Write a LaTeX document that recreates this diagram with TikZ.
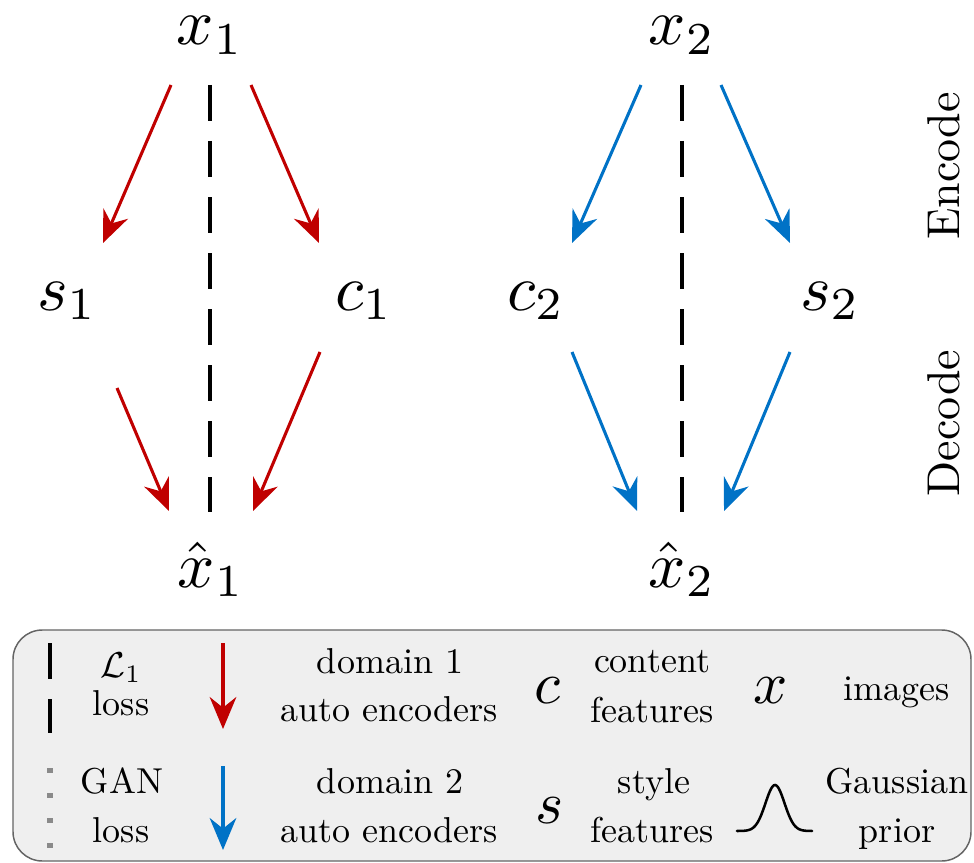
\documentclass[tikz,border=0pt]{standalone}
\usetikzlibrary{arrows.meta}
\definecolor{myred}{RGB}{192,0,0}
\definecolor{myblue}{RGB}{0,114,198}
\definecolor{legfill}{RGB}{239,239,239}
\definecolor{legdraw}{RGB}{100,100,100}
\definecolor{gangray}{RGB}{138,138,138}
\newcommand\mainlab[1]{\scalebox{4.9}{$#1$}}
\newcommand\legtext[1]{\scalebox{2.7}{#1}}
\newcommand\legmathtext[1]{\scalebox{4.5}{$#1$}}
\newcommand\sidetext[1]{\scalebox{3.45}{#1}}
\begin{document}
\begin{tikzpicture}[x=0.75pt,y=-0.75pt,
  lbl/.style={inner sep=0pt, anchor=base},
  legtxt/.style={inner sep=0pt, anchor=base},
  sidetxt/.style={inner sep=0pt, rotate=90},
  tipstyle/.style={-{Stealth[length=24pt,width=20pt,inset=8pt]}},
  redarrow/.style={draw=myred, line width=2.3pt, tipstyle},
  bluearrow/.style={draw=myblue, line width=2.3pt, tipstyle},
  lossline/.style={draw=black, line width=3pt, dash pattern=on 27pt off 15pt},
  ganline/.style={draw=gangray, line width=3.8pt, dash pattern=on 3.5pt off 15.25pt}
]
\useasboundingbox (0,0) rectangle (974,863);

% ---------- main labels ----------
\node[lbl] (x1) at (210,45) {\mainlab{x_1}};
\node[lbl] (x2) at (682,45) {\mainlab{x_2}};
\node[lbl] (s1) at (67,310) {\mainlab{s_1}};
\node[lbl] (c1) at (364,310) {\mainlab{c_1}};
\node[lbl] (c2) at (536,310) {\mainlab{c_2}};
\node[lbl] (s2) at (830,310) {\mainlab{s_2}};
\node[lbl] (xh1) at (211,587) {\mainlab{\hat{x}_1}};
\node[lbl] (xh2) at (682,587) {\mainlab{\hat{x}_2}};

\node[sidetxt] (enc) at (944,166) {\sidetext{Encode}};
\node[sidetxt] (dec) at (944,423) {\sidetext{Decode}};

% ---------- arrow end points ----------
\coordinate (a1s) at (171,85);  \coordinate (a1e) at (103,243);
\coordinate (a2s) at (251,85);  \coordinate (a2e) at (319,243);
\coordinate (a3s) at (117,388); \coordinate (a3e) at (169,511);
\coordinate (a4s) at (320,352); \coordinate (a4e) at (253,511);
\coordinate (b1s) at (641,85);  \coordinate (b1e) at (572,243);
\coordinate (b2s) at (721,85);  \coordinate (b2e) at (790,243);
\coordinate (b3s) at (572,352); \coordinate (b3e) at (637,511);
\coordinate (b4s) at (790,352); \coordinate (b4e) at (724,511);
\coordinate (l1s) at (210,85);  \coordinate (l1e) at (210,512);
\coordinate (l2s) at (682,85);  \coordinate (l2e) at (682,512);

\draw[redarrow] (a1s) -- (a1e);
\draw[redarrow] (a2s) -- (a2e);
\draw[redarrow] (a3s) -- (a3e);
\draw[redarrow] (a4s) -- (a4e);
\draw[bluearrow] (b1s) -- (b1e);
\draw[bluearrow] (b2s) -- (b2e);
\draw[bluearrow] (b3s) -- (b3e);
\draw[bluearrow] (b4s) -- (b4e);
\draw[lossline] (l1s) -- (l1e);
\draw[lossline] (l2s) -- (l2e);

% ---------- legend ----------
\draw[fill=legfill, draw=legdraw, line width=1.1pt, rounded corners=22pt] (13,630) rectangle (971,861);

\coordinate (ll1s) at (50,643); \coordinate (ll1e) at (50,733);
\coordinate (lg1s) at (50,768); \coordinate (lg1e) at (50,850);
\draw[lossline] (ll1s) -- (ll1e);
\draw[ganline] (lg1s) -- (lg1e);

\node[legtxt] (tl1) at (121,677) {\legtext{$\mathcal{L}_1$}};
\node[legtxt] (tl2) at (121,715) {\legtext{loss}};
\node[legtxt] (tg1) at (122,793) {\legtext{GAN}};
\node[legtxt] (tg2) at (121,842) {\legtext{loss}};

\coordinate (lr1s) at (223,643); \coordinate (lr1e) at (223,729);
\coordinate (lb1s) at (223,766); \coordinate (lb1e) at (223,850);
\draw[redarrow] (lr1s) -- (lr1e);
\draw[bluearrow] (lb1s) -- (lb1e);

\node[legtxt] (td1) at (390,673) {\legtext{domain 1}};
\node[legtxt] (ta1) at (389,721) {\legtext{auto encoders}};
\node[legtxt] (td2) at (390,793) {\legtext{domain 2}};
\node[legtxt] (ta2) at (389,842) {\legtext{auto encoders}};

\node[legtxt] (mc) at (547,703) {\legmathtext{c}};
\node[legtxt] (ms) at (550,823) {\legmathtext{s}};
\node[legtxt] (tc1) at (652,672) {\legtext{content}};
\node[legtxt] (tc2) at (652,722) {\legtext{features}};
\node[legtxt] (ts1) at (654,793) {\legtext{style}};
\node[legtxt] (ts2) at (652,842) {\legtext{features}};

\node[legtxt] (mx) at (771,703) {\legmathtext{x}};
\node[legtxt] (ti) at (897,700) {\legtext{images}};
\draw[line width=1.9pt, line cap=round]
  plot[smooth, domain=-38:37, samples=60] ({775+\x},{831-46*exp(-(\x*\x)/(2*9.5*9.5))});
\node[legtxt] (tga) at (897,793) {\legtext{Gaussian}};
\node[legtxt] (tpr) at (897,842) {\legtext{prior}};
\end{tikzpicture}
\end{document}
